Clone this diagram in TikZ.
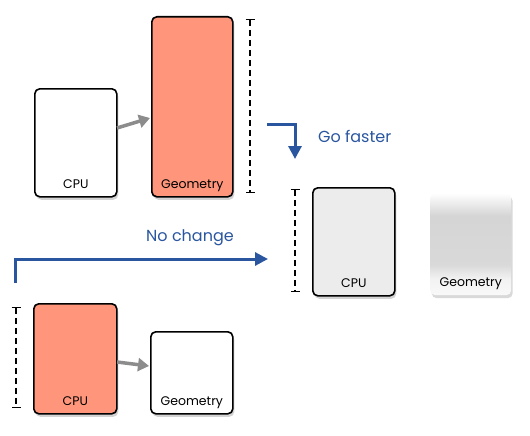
\documentclass[tikz,border=0pt]{standalone}
\usepackage{fontspec}
\setmainfont{Poppins}
\usetikzlibrary{arrows.meta,shadows,calc}
\definecolor{salmon}{RGB}{255,149,122}
\definecolor{bluearr}{RGB}{42,86,160}
\definecolor{grayarr}{RGB}{140,140,140}
\definecolor{cpulight}{RGB}{236,236,236}
\pgfdeclareverticalshading{ghostv}{100bp}{color(0bp)=(gray!5); color(25bp)=(gray!5); color(33bp)=(gray!10); color(40bp)=(gray!30); color(64bp)=(gray!33); color(71bp)=(gray!12); color(75bp)=(white); color(100bp)=(white)}
\tikzset{
  unit/.style={draw=black, line width=1.6pt, rounded corners=5pt, anchor=north west,
    inner sep=0pt, drop shadow={shadow xshift=1.5pt, shadow yshift=-3pt, opacity=0.35}},
  ghost/.style={rounded corners=5pt, anchor=north west, inner sep=0pt,
    shading=ghostv,
    drop shadow={shadow xshift=1.5pt, shadow yshift=-3pt, opacity=0.3}},
  lbl/.style={font=\fontsize{12.5}{14}\selectfont, anchor=base, inner sep=0pt},
  bar/.style={line width=1.1pt, dash pattern=on 6pt off 4pt, {Bar[width=9pt]}-{Bar[width=9pt]}},
  flow/.style={line width=3pt, bluearr, -{Triangle[length=13pt,width=13pt]}},
  feed/.style={line width=3.5pt, grayarr, -{Triangle[length=11pt,width=13pt]}},
  note/.style={text=bluearr, font=\fontsize{16}{19}\selectfont, inner sep=0pt}
}
\begin{document}
\begin{tikzpicture}[x=1pt,y=-1pt]
\useasboundingbox (0,0) rectangle (530,436);
% top row
\node[unit, fill=white, minimum width=82pt, minimum height=108pt] (cpu1) at (34,88) {};
\node[unit, fill=salmon, minimum width=81pt, minimum height=180pt] (geo1) at (151,16) {};
\node[lbl] (cpu1l) at ($(cpu1.south)+(0,-9)$) {CPU};
\node[lbl] (geo1l) at ($(geo1.south)+(0,-9)$) {Geometry};
\coordinate (b1t) at (250,19);
\coordinate (b1b) at (250,193);
\draw[bar] (b1t) -- (b1b);
\coordinate (a1s) at (117,128);
\coordinate (a1e) at (150,118);
\draw[feed] (a1s) -- (a1e);
% go faster
\coordinate (gf1) at (267,124);
\coordinate (gf2) at (295,159);
\draw[flow] (gf1) -| (gf2);
\node[note, anchor=west] (gft) at (318,136) {Go faster};
% middle
\node[unit, fill=cpulight, minimum width=82pt, minimum height=108pt] (cpu2) at (312,187) {};
\node[lbl] (cpu2l) at ($(cpu2.south)+(0,-9)$) {CPU};
\node[ghost, minimum width=81pt, minimum height=102pt] (geo2) at (430,193) {};
\node[lbl] (geo2l) at ($(geo2.south)+(0,-9)$) {Geometry};
\coordinate (b2t) at (295,189);
\coordinate (b2b) at (295,292);
\draw[bar] (b2t) -- (b2b);
% no change
\coordinate (nc1) at (15,283);
\coordinate (nc2) at (268,259);
\draw[flow] (nc1) |- (nc2);
\node[note, anchor=center] (nct) at (190,238) {No change};
% bottom row
\node[unit, fill=salmon, minimum width=83pt, minimum height=110pt] (cpu3) at (33,303) {};
\node[unit, fill=white, minimum width=82pt, minimum height=82pt] (geo3) at (150,331) {};
\node[lbl] (cpu3l) at ($(cpu3.south)+(0,-9)$) {CPU};
\node[lbl] (geo3l) at ($(geo3.south)+(0,-9)$) {Geometry};
\coordinate (b3t) at (16,307);
\coordinate (b3b) at (16,408);
\draw[bar] (b3t) -- (b3b);
\coordinate (a3s) at (117,362);
\coordinate (a3e) at (149,366);
\draw[feed] (a3s) -- (a3e);
\end{tikzpicture}
\end{document}
